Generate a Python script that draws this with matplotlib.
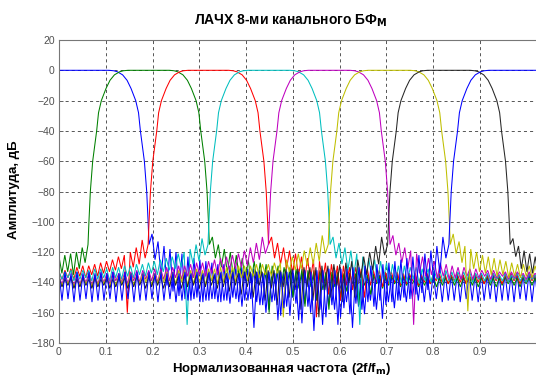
import numpy as np
import matplotlib
matplotlib.use("Agg")
import matplotlib.pyplot as plt

plt.rcParams['font.family'] = ['Liberation Sans', 'DejaVu Sans']
plt.rcParams['lines.scale_dashes'] = False

# ---------------- data ----------------
x_max = 1.024
x_ticks = [0, 0.1, 0.2, 0.3, 0.4, 0.5, 0.6, 0.7, 0.8, 0.9]
x_tick_labels = ['0', '0.1', '0.2', '0.3', '0.4', '0.5', '0.6', '0.7', '0.8', '0.9']
y_ticks = [-180, -160, -140, -120, -100, -80, -60, -40, -20, 0, 20]

# dB levels of the transition bands (stopband -> passband)
levels_rise = [-115, -100, -80, -60, -40, -28, -20, -12, -6.6, -3, -1, -0.3, 0]
levels_fall = levels_rise[::-1]

# channel 1 (blue, lowpass)
ch1_fall = [0.107, 0.117, 0.125, 0.136, 0.1455, 0.154, 0.164, 0.170, 0.174, 0.1825, 0.1875, 0.1905, 0.1925]
ch1_right = [-108,-125, -113,-136, -116,-142, -118,-146, -120,-149, -121,-151, -123,-152, -124,-150, -125,-153, -126,-152,
             -127,-151, -128,-153, -128,-152, -129,-150, -130,-153, -130,-152, -131,-151, -131,-153, -132,-155, -132,-158,
             -133,-152, -132,-162, -134,-156, -133,-150, -134,-165, -133,-154, -135,-160, -134,-152, -133,-168, -134,-155,
             -135,-158, -134,-163, -135,-153, -134,-170, -135,-156, -134,-161, -135,-152, -134,-158, -135,-164, -134,-153,
             -135,-157, -134,-152, -135,-153, -134,-151, -135,-152, -134,-153, -135,-152, -134,-151, -135,-153, -134,-152,
             -135,-152, -134,-153, -135,-151, -134,-152, -135,-153, -134,-152, -135,-151, -134,-153, -135,-152, -134,-152,
             -135,-153, -134,-151, -135,-152, -134,-153, -135,-152]

# channel 2 (green)
ch2_left = [-123,-134, -122,-133, -121,-135, -120,-131, -117,-127]
ch2_rise = [0.062, 0.064, 0.067, 0.072, 0.0805, 0.0845, 0.0905, 0.1005, 0.109, 0.1185, 0.1295, 0.1375, 0.1475]
ch2_fall = [0.236, 0.246, 0.254, 0.265, 0.2745, 0.283, 0.293, 0.299, 0.303, 0.3115, 0.3165, 0.3195, 0.3215]
ch2_right = [-110,-124, -115,-130, -118,-134, -120,-136, -122,-137, -124,-139, -125,-140, -126,-141, -127,-140, -128,-160,
             -129,-141, -129,-143, -130,-142, -130,-150, -131,-144, -131,-156, -132,-143, -132,-152, -132,-145, -133,-158,
             -133,-143, -133,-150, -134,-146, -134,-141, -134,-155, -135,-142, -135,-148, -135,-141, -136,-144, -136,-142,
             -136,-141, -137,-143, -136,-142, -137,-141, -136,-143, -137,-142, -137,-141, -136,-143, -137,-142, -137,-141,
             -136,-142, -137,-143, -137,-141, -136,-142, -137,-143, -137,-141, -136,-142, -137,-143, -137,-142, -136,-141,
             -137,-142, -137,-143, -136,-141, -137,-142, -137,-143]

# channel 3 (red)
ch3_left = [-133,-138, -132,-137, -131,-138, -130,-136, -129,-137, -129,-135, -128,-136, -127,-134, -126,-133, -125,-132,
            -123,-131, -122,-160, -120,-130, -117,-128, -112,-124]
ch3_rise = [0.1905, 0.1925, 0.1955, 0.2005, 0.209, 0.213, 0.219, 0.229, 0.2375, 0.247, 0.258, 0.266, 0.276]
ch3_fall = [0.3625, 0.3725, 0.3805, 0.3915, 0.401, 0.4095, 0.4195, 0.4255, 0.4295, 0.438, 0.443, 0.446, 0.448]
ch3_right = [-110,-124, -114,-128, -117,-131, -119,-134, -121,-136, -123,-140, -124,-138, -125,-163, -126,-140, -127,-148,
             -128,-141, -129,-152, -129,-142, -130,-145, -130,-141, -131,-150, -131,-142, -132,-140, -132,-143, -133,-141,
             -133,-140, -133,-142, -134,-141, -134,-139, -134,-142, -135,-140, -134,-141, -135,-139, -134,-140, -135,-141,
             -135,-139, -134,-140, -135,-141, -135,-139, -134,-140, -135,-141, -135,-140, -134,-139, -135,-141, -135,-140,
             -134,-139, -135,-141, -135,-140, -134,-139, -135,-140]

# channel 4 (cyan)
ch4_left = [-133,-138, -133,-137, -132,-139, -133,-138, -132,-137, -132,-139, -131,-138, -131,-137, -131,-139, -130,-137,
            -130,-138, -129,-136, -129,-137, -128,-135, -128,-136, -127,-134, -126,-135, -125,-133, -124,-132, -123,-131,
            -121,-130, -120,-168, -118,-128, -115,-126, -111,-122]
ch4_rise = [0.3185, 0.3205, 0.3235, 0.3285, 0.337, 0.341, 0.347, 0.357, 0.3655, 0.375, 0.386, 0.394, 0.404]
ch4_fall = [0.494, 0.504, 0.512, 0.523, 0.5325, 0.541, 0.551, 0.557, 0.561, 0.5695, 0.5745, 0.5775, 0.5795]
ch4_right = [-110,-124, -114,-128, -117,-132, -119,-135, -121,-168, -123,-139, -124,-137, -125,-140, -126,-138, -127,-141,
             -128,-139, -129,-141, -129,-140, -130,-138, -130,-141, -131,-139, -131,-140, -132,-138, -132,-140, -132,-139,
             -133,-140, -133,-138, -133,-139, -133,-140, -134,-138, -134,-139, -134,-140, -134,-138, -135,-139, -134,-140,
             -135,-138, -134,-139, -135,-140, -134,-138, -135,-139]

# channel 5 (magenta)
ch5_left = [-136,-141, -135,-140, -136,-142, -135,-141, -135,-140, -134,-142, -135,-141, -134,-140, -134,-141, -133,-139,
            -134,-140, -133,-141, -133,-139, -132,-140, -132,-138, -132,-139, -131,-140, -131,-138, -130,-139, -130,-137,
            -129,-138, -129,-136, -128,-137, -127,-135, -127,-136, -126,-134, -125,-135, -124,-133, -123,-132, -122,-131,
            -121,-130, -119,-129, -117,-127, -114,-125, -110,-121]
ch5_rise = [0.4475, 0.4495, 0.4525, 0.4575, 0.466, 0.47, 0.476, 0.486, 0.4945, 0.504, 0.515, 0.523, 0.533]
ch5_fall = [0.622, 0.632, 0.64, 0.651, 0.6605, 0.669, 0.679, 0.685, 0.689, 0.6975, 0.7025, 0.7055, 0.7075]
ch5_right = [-109,-122, -114,-127, -117,-131, -119,-168, -121,-134, -123,-136, -124,-135, -126,-137, -127,-136, -128,-138,
             -129,-137, -130,-138, -130,-136, -131,-138, -131,-137, -132,-136, -132,-138, -132,-137, -133,-136, -133,-138,
             -133,-137, -133,-136, -134,-138, -133,-137, -134,-136]

# channel 6 (yellow)
ch6_left = [-137,-142, -137,-141, -136,-143, -137,-142, -136,-141, -136,-143, -136,-142, -135,-141, -136,-143, -135,-142,
            -135,-141, -135,-143, -134,-142, -135,-141, -134,-140, -134,-142, -134,-141, -133,-140, -133,-142, -133,-141,
            -132,-140, -132,-142, -132,-141, -131,-140, -132,-142, -131,-139, -131,-141, -130,-140, -130,-138, -130,-140,
            -129,-137, -129,-139, -129,-136, -128,-137, -128,-135, -128,-136, -127,-134, -127,-163, -125,-133, -123,-132,
            -121,-131, -119,-129, -117,-128, -114,-126, -109,-121]
ch6_rise = [0.5755, 0.5775, 0.5805, 0.5855, 0.594, 0.598, 0.604, 0.614, 0.6225, 0.632, 0.643, 0.651, 0.661]
ch6_fall = [0.751, 0.761, 0.769, 0.78, 0.7895, 0.798, 0.808, 0.814, 0.818, 0.8265, 0.8315, 0.8345, 0.8365]
ch6_right = [-108,-121, -113,-127, -116,-159, -118,-131, -120,-133, -122,-134, -123,-135, -124,-136, -125,-135, -126,-137,
             -127,-136, -128,-137, -128,-136, -129,-137, -129,-136]

# channel 7 (black)
ch7_left = [-137,-143, -138,-142, -137,-144, -138,-143, -137,-142, -138,-144, -137,-143, -138,-142, -137,-144, -138,-143,
            -137,-142, -137,-144, -137,-143, -136,-142, -137,-144, -136,-143, -136,-142, -136,-144, -136,-143, -135,-142,
            -136,-144, -135,-143, -135,-142, -135,-144, -135,-143, -134,-142, -135,-144, -134,-143, -134,-146, -134,-142,
            -134,-148, -133,-143, -133,-150, -133,-142, -133,-152, -132,-144, -132,-155, -132,-143, -131,-150, -131,-145,
            -131,-158, -130,-143, -130,-152, -130,-163, -129,-145, -129,-150, -128,-142, -128,-153, -127,-140, -126,-150,
            -125,-137, -123,-135, -120,-132, -116,-128, -110,-122]
ch7_rise = [0.7025, 0.7045, 0.7075, 0.7125, 0.721, 0.725, 0.731, 0.741, 0.7495, 0.759, 0.77, 0.778, 0.788]
ch7_fall = [0.879, 0.889, 0.897, 0.908, 0.9175, 0.926, 0.936, 0.942, 0.946, 0.9545, 0.9595, 0.9625, 0.9645]
ch7_right = [-111,-123, -116,-131, -119,-133, -121,-134, -123,-135]

# channel 8 (blue, highpass)
ch8_left = [-134,-152, -133,-151, -134,-153, -133,-152, -134,-151, -133,-153, -134,-152, -133,-152, -134,-151, -133,-153,
            -134,-152, -133,-151, -134,-153, -133,-152, -134,-152, -133,-151, -134,-153, -133,-152, -134,-151, -133,-153,
            -134,-152, -133,-152, -134,-151, -133,-153, -134,-152, -133,-151, -134,-153, -133,-152, -134,-154, -133,-151,
            -134,-156, -133,-152, -134,-170, -133,-155, -134,-160, -133,-153, -134,-165, -133,-157, -133,-162, -132,-154,
            -133,-167, -132,-156, -133,-172, -132,-158, -132,-163, -131,-155, -132,-168, -131,-157, -131,-161, -130,-154,
            -130,-158, -129,-153, -129,-156, -128,-152, -128,-155, -127,-153, -126,-152, -125,-150, -124,-151, -123,-148,
            -122,-147, -121,-145, -119,-140, -116,-134, -110,-124]
ch8_rise = [0.8335, 0.8355, 0.8385, 0.8435, 0.852, 0.856, 0.862, 0.872, 0.8805, 0.89, 0.901, 0.909, 0.919]

channels = [
    (None, None, ch1_fall, ch1_right, '#0000ff'),
    (ch2_left, ch2_rise, ch2_fall, ch2_right, '#008000'),
    (ch3_left, ch3_rise, ch3_fall, ch3_right, '#ff0000'),
    (ch4_left, ch4_rise, ch4_fall, ch4_right, '#00bfbf'),
    (ch5_left, ch5_rise, ch5_fall, ch5_right, '#bf00bf'),
    (ch6_left, ch6_rise, ch6_fall, ch6_right, '#bfbf00'),
    (ch7_left, ch7_rise, ch7_fall, ch7_right, '#262626'),
    (ch8_left, ch8_rise, None, None, '#0000ff'),
]


def build(left, rise, fall, right):
    xs, ys = [], []
    if left is not None:
        xs += list(np.linspace(0.0, rise[0], len(left), endpoint=False))
        ys += list(left)
    if rise is not None:
        xs += list(rise)
        ys += levels_rise
    else:
        xs.append(0.0)
        ys.append(0.0)
    if fall is not None:
        xs += list(fall)
        ys += levels_fall
    else:
        xs.append(x_max)
        ys.append(0.0)
    if right is not None:
        xs += list(np.linspace(fall[-1], x_max, len(right) + 1)[1:])
        ys += list(right)
    return xs, ys


W, H = 536, 378
fig = plt.figure(figsize=(W / 100, H / 100), dpi=100)
ax = fig.add_axes([59 / W, 35 / H, (538 - 59) / W, 303 / H])

for left, rise, fall, right, col in channels:
    xs, ys = build(left, rise, fall, right)
    ax.plot(xs, ys, color=col, linewidth=0.75, solid_joinstyle='miter')

ax.set_xlim(0, x_max)
ax.set_ylim(-180, 20)
ax.set_xticks(x_ticks)
ax.set_xticklabels(x_tick_labels)
ax.set_yticks(y_ticks)
ax.grid(True, linestyle=(0, (2.2, 2.2)), color='#555555', linewidth=0.7)
ax.tick_params(direction='in', length=3, width=0.7, color='#666666',
               labelsize=7.5, labelcolor='#505050', pad=3)
for sp in ax.spines.values():
    sp.set_color('#777777')
    sp.set_linewidth(0.8)

fig.text(291 / W, 1 - 21 / H, 'ЛАЧХ 8-ми канального БФ$_\\mathbf{M}$',
         ha='center', va='center', fontsize=10, fontweight='bold')
fig.text(282 / W, 1 - 369 / H, 'Нормализованная частота (2f/f$_\\mathbf{m}$)',
         ha='center', va='center', fontsize=9.5, fontweight='bold')
fig.text(14 / W, 1 - 190 / H, 'Амплитуда, дБ', rotation=90,
         ha='center', va='center', fontsize=9.5, fontweight='bold')

fig.savefig('out.png', dpi=100)
